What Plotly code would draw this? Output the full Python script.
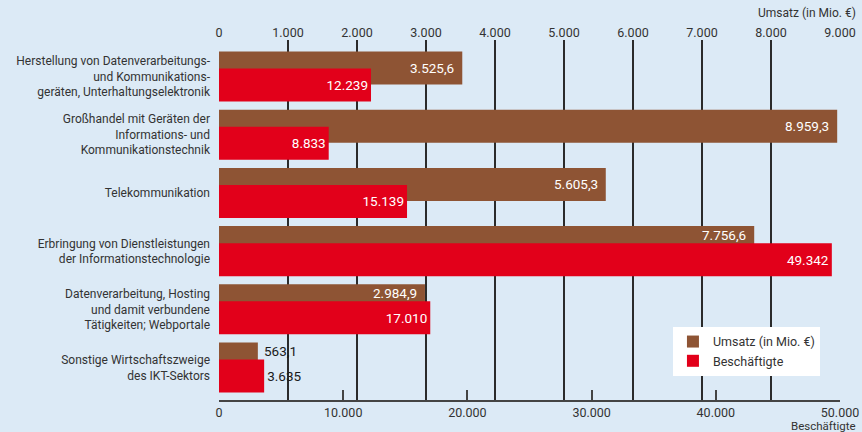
import plotly.graph_objects as go

# Data
sectors = [
    "Herstellung von Datenverarbeitungs-<br>und Kommunikations-<br>geräten, Unterhaltungselektronik",
    "Großhandel mit Geräten der<br>Informations- und<br>Kommunikationstechnik",
    "Telekommunikation",
    "Erbringung von Dienstleistungen<br>der Informationstechnologie",
    "Datenverarbeitung, Hosting<br>und damit verbundene<br>Tätigkeiten; Webportale",
    "Sonstige Wirtschaftszweige<br>des IKT-Sektors",
]
umsatz = [3525.6, 8959.3, 5605.3, 7756.6, 2984.9, 563.1]
beschaeftigte = [12239, 8833, 15139, 49342, 17010, 3635]

umsatz_ticks = [0, 1000, 2000, 3000, 4000, 5000, 6000, 7000, 8000, 9000]
besch_ticks = [0, 10000, 20000, 30000, 40000, 50000]

BROWN = "#8E5434"
RED = "#E2001A"
BG = "#DCEAF6"
FONT = "Roboto, Liberation Sans, sans-serif"
TXT = "#333333"

n = len(sectors)
pos = [n - 1 - i for i in range(n)]  # top to bottom


def de_num(v, dec):
    s = f"{v:,.{dec}f}"
    return s.replace(",", "X").replace(".", ",").replace("X", ".")


fig = go.Figure()

# brown bars on the base axis (top, Umsatz); red bars on the overlaying axis so they sit on top
fig.add_trace(go.Bar(
    y=pos, x=umsatz, orientation="h", xaxis="x",
    name="Umsatz (in Mio. €)", marker=dict(color=BROWN, line=dict(width=0)),
    width=0.567, offset=-0.137,
))

fig.add_trace(go.Bar(
    y=pos, x=beschaeftigte, orientation="h", xaxis="x2",
    name="Beschäftigte", marker=dict(color=RED, line=dict(width=0)),
    width=0.567, offset=-0.43,
    text=[de_num(v, 0) for v in beschaeftigte],
    textposition=["inside"] * (n - 1) + ["outside"],
    insidetextanchor="end",
    textfont=dict(size=13.5, family=FONT),
    insidetextfont=dict(color="white", size=13.5, family=FONT),
    outsidetextfont=dict(color="#1a1a1a", size=13.5, family=FONT),
    cliponaxis=False,
))

# Umsatz labels: placed where the brown bar is visible
annotations = []
for i, (u, b) in enumerate(zip(umsatz, beschaeftigte)):
    covered = b / 50000 > u / 9000 - 0.08
    yy = pos[i] + (0.284 if covered else 0.147)
    inside = u > 1500
    annotations.append(dict(
        x=u, y=yy, xref="x", yref="y",
        text=de_num(u, 1), showarrow=False,
        xanchor="right" if inside else "left",
        xshift=-6 if inside else 4,
        font=dict(size=13.5, family=FONT, color="white" if inside else "#1a1a1a"),
    ))

annotations.append(dict(
    x=1.029, y=1.075, xref="paper", yref="paper", text="Umsatz (in Mio. €)",
    showarrow=False, xanchor="right", yanchor="middle",
    font=dict(size=12, family=FONT, color=TXT),
))
annotations.append(dict(
    x=1.029, y=-0.071, xref="paper", yref="paper", text="Beschäftigte",
    showarrow=False, xanchor="right", yanchor="middle",
    font=dict(size=11.5, family=FONT, color=TXT),
))

fig.update_layout(
    width=862, height=432,
    margin=dict(l=219, r=22, t=40, b=32),
    paper_bgcolor=BG, plot_bgcolor=BG,
    barmode="overlay",
    separators=",.",
    font=dict(family=FONT, size=12, color=TXT),
    showlegend=True,
    legend=dict(
        x=0.731, y=0.203, xanchor="left", yanchor="top",
        bgcolor="white", borderwidth=0,
        font=dict(size=12.5, family=FONT, color=TXT),
        itemwidth=30, tracegroupgap=0,
    ),
    xaxis=dict(
        range=[0, 9000], tickvals=umsatz_ticks, tickformat=",d",
        side="top", automargin=False,
        showgrid=True, gridcolor="#2b2b2b", gridwidth=1.5,
        zeroline=False, showline=False, ticks="",
        tickfont=dict(size=12.5, family=FONT, color=TXT),
    ),
    xaxis2=dict(
        range=[0, 50000], tickvals=besch_ticks, tickformat=",d",
        overlaying="x", side="bottom", automargin=False,
        showgrid=False, zeroline=False,
        showline=True, linecolor="#444444", linewidth=1.5,
        ticks="inside", ticklen=10, tickcolor="#444444", tickwidth=1.5,
        tickfont=dict(size=12.5, family=FONT, color=TXT),
    ),
    yaxis=dict(
        range=[-0.558, 5.627], tickvals=pos, ticktext=sectors,
        showgrid=False, zeroline=False, showline=False, ticks="",
        automargin=False, ticklabelstandoff=8,
        tickfont=dict(size=12, family=FONT, color=TXT),
    ),
    annotations=annotations,
)

fig.write_html(
    "out.html",
    config={"displayModeBar": False},
    post_script="document.body.style.margin='0px';",
)
